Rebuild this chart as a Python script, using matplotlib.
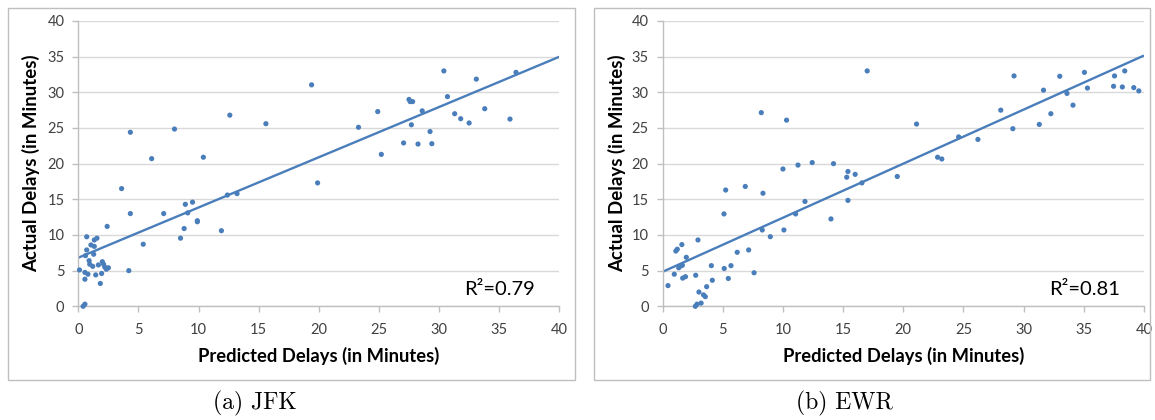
import numpy as np
import matplotlib
matplotlib.use('Agg')
import matplotlib.pyplot as plt
from matplotlib.patches import Rectangle

# ---------------- data ----------------
jfk_pred = [0.1, 0.4, 0.55, 0.55, 0.55, 0.8, 0.7, 0.7, 0.6, 0.9, 0.95, 1.2, 1.05, 1.33,
            1.28, 1.33, 1.55, 1.45, 1.67, 1.83, 1.94, 2.0, 2.1, 2.2, 2.33, 2.5, 2.4, 3.6,
            4.33, 4.2, 5.4, 6.1, 7.1, 8.5, 8.8, 8.9, 9.1, 9.5, 9.9, 9.9, 10.4, 11.9, 12.4,
            13.2, 19.9, 4.33, 8.0, 12.6, 15.6, 19.4, 23.3, 24.9, 25.2, 27.05, 27.5, 27.6,
            27.8, 27.7, 28.25, 28.6, 29.25, 29.4, 30.4, 30.7, 31.3, 31.8, 32.5, 33.1, 33.8,
            35.9, 36.4]
jfk_actual = [5.1, 0.0, 0.3, 4.75, 3.8, 4.5, 9.75, 7.9, 7.1, 6.4, 5.9, 5.6, 8.6, 8.4,
              7.3, 9.3, 9.55, 4.4, 5.8, 3.2, 4.6, 6.25, 5.9, 5.5, 5.2, 5.4, 11.2, 16.5,
              13.0, 5.0, 8.7, 20.7, 13.0, 9.55, 10.9, 14.3, 13.1, 14.6, 12.0, 11.85, 20.9,
              10.6, 15.6, 15.8, 17.3, 24.4, 24.85, 26.8, 25.6, 31.05, 25.1, 27.3, 21.3,
              22.9, 29.0, 28.7, 28.7, 25.45, 22.75, 27.4, 24.5, 22.8, 33.0, 29.4, 27.0,
              26.3, 25.7, 31.85, 27.7, 26.25, 32.8]

ewr_pred = [0.45, 0.97, 1.1, 1.22, 1.6, 1.34, 1.5, 1.64, 1.67, 1.9, 1.97, 2.75, 2.72,
            2.86, 3.2, 2.94, 3.02, 3.4, 3.55, 3.66, 4.05, 4.13, 5.1, 5.24, 5.12, 5.46,
            5.68, 6.2, 6.87, 7.15, 7.6, 8.28, 8.34, 8.95, 10.0, 10.08, 11.05, 11.25,
            11.83, 12.43, 13.99, 14.2, 15.3, 15.4, 15.4, 16.0, 16.56, 19.5, 8.2, 10.3,
            17.0, 21.1, 22.85, 23.2, 24.6, 26.2, 28.1, 29.1, 29.2, 31.3, 31.65, 32.26,
            33.0, 33.6, 34.1, 35.05, 35.3, 37.47, 37.55, 38.2, 38.4, 39.15, 39.57]
ewr_actual = [2.9, 4.5, 7.75, 8.0, 8.65, 5.4, 5.65, 5.75, 3.95, 4.15, 6.87, 4.35, 0.0,
              0.3, 0.45, 9.3, 2.0, 1.6, 1.35, 2.75, 5.7, 3.65, 12.95, 16.3, 5.3, 3.9,
              5.7, 7.57, 16.8, 7.9, 4.7, 10.7, 15.85, 9.76, 19.25, 10.7, 12.95, 19.8,
              14.7, 20.15, 12.25, 20.0, 18.1, 18.9, 14.85, 18.5, 17.3, 18.2, 27.15, 26.1,
              33.0, 25.55, 20.9, 20.65, 23.75, 23.4, 27.5, 24.9, 32.3, 25.5, 30.3, 27.0,
              32.25, 29.85, 28.2, 32.8, 30.6, 30.85, 32.3, 30.75, 33.0, 30.66, 30.2]

r2_labels = ['R\u00b2=0.79', 'R\u00b2=0.81']
captions = ['(a) JFK', '(b) EWR']
x_label = 'Predicted Delays (in Minutes)'
y_label = 'Actual Delays (in Minutes)'
x_ticks = [0, 5, 10, 15, 20, 25, 30, 35, 40]
y_ticks = [0, 5, 10, 15, 20, 25, 30, 35, 40]

# ---------------- style ----------------
W, H = 1155, 420
BLUE = '#4a7ebb'
GRID = '#d9d9d9'
AXC = '#bfbfbf'
TXT = '#404040'
FONT = ['Lato', 'DejaVu Sans']
plt.rcParams['font.family'] = FONT

fig = plt.figure(figsize=(W / 100, H / 100), dpi=100)

panels = [
    dict(px=jfk_pred, py=jfk_actual, ax_px=(78.3, 559.3), frame=(8, 574.5)),
    dict(px=ewr_pred, py=ewr_actual, ax_px=(662.6, 1144.0), frame=(593.7, 1150)),
]
y0_px, y1_px = 306.3, 21.0
frame_top, frame_bot = 8, 380

for i, p in enumerate(panels):
    x0, x1 = p['ax_px']
    ax = fig.add_axes([x0 / W, (H - y0_px) / H, (x1 - x0) / W, (y0_px - y1_px) / H])
    ax.set_xlim(0, 40)
    ax.set_ylim(0, 40)
    ax.set_xticks(x_ticks)
    ax.set_yticks(y_ticks)
    ax.set_axisbelow(True)
    ax.yaxis.grid(True, color=GRID, linewidth=1.0)
    for s in ['top', 'right']:
        ax.spines[s].set_visible(False)
    for s in ['left', 'bottom']:
        ax.spines[s].set_color(AXC)
        ax.spines[s].set_linewidth(1.0)
    ax.tick_params(axis='both', direction='out', length=4, color=AXC, width=1.0,
                   labelsize=10.5, labelcolor=TXT)
    ax.tick_params(axis='x', pad=8)
    ax.tick_params(axis='y', pad=6)

    xs = np.array(p['px'])
    ys = np.array(p['py'])
    ax.scatter(xs, ys, s=14, color=BLUE, edgecolors='none', zorder=3, clip_on=False)
    k, b = np.polyfit(xs, ys, 1)
    xl = np.array([0, 40])
    ax.plot(xl, k * xl + b, color=BLUE, linewidth=1.7, zorder=2, solid_capstyle='butt')

    ax.text(32.1, 1.6, r2_labels[i], fontsize=14.5, color='#000000', ha='left', va='baseline')

    ax.text(0.5, (y0_px - 356) / (y0_px - y1_px), x_label, transform=ax.transAxes,
            ha='center', va='center', fontsize=13.2, fontweight='bold', color='#000000')
    fx0, fx1 = p['frame']
    ylab_x = fx0 + 23
    ax.text((ylab_x - x0) / (x1 - x0), 0.5, y_label, transform=ax.transAxes,
            ha='center', va='center', rotation=90, fontsize=13.4, fontweight='bold',
            color='#000000')

    fig.patches.append(Rectangle((fx0 / W, (H - frame_bot) / H), (fx1 - fx0) / W,
                                 (frame_bot - frame_top) / H, transform=fig.transFigure,
                                 fill=False, edgecolor=AXC, linewidth=1.0))

cap_x = [255, 844]
for i, c in enumerate(captions):
    fig.text(cap_x[i] / W, (H - 403) / H, c, ha='center', va='center', fontsize=17,
             family='cmr10')

fig.savefig('out.png', dpi=100)
